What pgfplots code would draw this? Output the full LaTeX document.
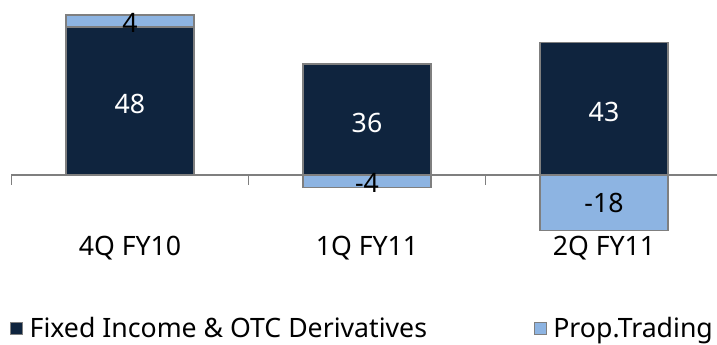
\documentclass[border=0pt]{standalone}
\usepackage{fontspec}
\setmainfont{Noto Sans}
\usepackage{pgfplots}
\pgfplotsset{compat=1.18}

\definecolor{navy}{HTML}{0F243E}
\definecolor{lightblue}{HTML}{8DB4E2}
\definecolor{edge}{HTML}{7F7F7F}

% shared geometry of both layers: 1 unit in x = one category slot
\pgfplotsset{
  baselayer/.style={
    x=177.75pt, y=2.31pt,
    xmin=-0.5485, xmax=2.4768, ymin=-55.19, ymax=56.82,
    axis lines=none, clip=false,
    bar width=0.54,
  },
  barstyle/.style={draw=edge, line width=1.1pt},
}

\begin{document}
\begin{tikzpicture}
% positive stack: fixed income with prop trading on top
\begin{axis}[baselayer, ybar stacked,
  legend columns=2,
  legend cell align=left,
  legend style={at={(rel axis cs:0.008,0.049)}, anchor=west, draw=none, fill=none,
    font=\fontsize{20}{24}\selectfont,
    /tikz/every odd column/.append style={column sep=3pt},
    /tikz/every even column/.append style={column sep=78pt}},
  legend image code/.code={\draw[#1, line width=0.75pt] (0pt,-4.5pt) rectangle (9pt,4.5pt);},
]
\addplot[barstyle, fill=navy] coordinates {(0,48) (1,36) (2,43)};
\addlegendentry{Fixed Income \& OTC Derivatives}
\addplot[barstyle, fill=lightblue] coordinates {(0,4) (1,0) (2,0)};
\addlegendentry{Prop.Trading}

% zero line with category separators
\draw[edge, line width=1.1pt] (axis cs:-0.5,0) -- (axis cs:2.4768,0);
\draw[edge, line width=1.1pt] (axis cs:-0.5,0) -- ++(0pt,-7.5pt);
\draw[edge, line width=1.1pt] (axis cs:0.5,0) -- ++(0pt,-7.5pt);
\draw[edge, line width=1.1pt] (axis cs:1.5,0) -- ++(0pt,-7.5pt);

% category names
\node[font=\fontsize{20}{24}\selectfont] at (axis cs:0,-23.6) {4Q FY10};
\node[font=\fontsize{20}{24}\selectfont] at (axis cs:1,-23.6) {1Q FY11};
\node[font=\fontsize{20}{24}\selectfont] at (axis cs:2,-23.6) {2Q FY11};

% picture frame = axis rectangle
\coordinate (frameLL) at (rel axis cs:0,0);
\coordinate (frameUR) at (rel axis cs:1,1);
\end{axis}

% negative prop trading results below the zero line, plus value labels
\begin{axis}[baselayer, ybar, bar shift=0pt]
\addplot[barstyle, fill=lightblue] coordinates {(1,-4) (2,-18)};
% labels sit at the middle of each segment
\addplot[draw=none, fill=none, nodes near coords, point meta=explicit symbolic,
  nodes near coords style={anchor=center, text=white, font=\fontsize{20}{24}\selectfont}]
  coordinates {(0,23) [48] (1,17) [36] (2,20.5) [43]};
\addplot[draw=none, fill=none, nodes near coords, point meta=explicit symbolic,
  nodes near coords style={anchor=center, text=black, font=\fontsize{20}{24}\selectfont}]
  coordinates {(0,49.5) [4] (1,-2.5) [-4] (2,-9) [-18]};
\end{axis}
\pgfresetboundingbox
\path[use as bounding box] (frameLL) rectangle (frameUR);
\end{tikzpicture}
\end{document}
